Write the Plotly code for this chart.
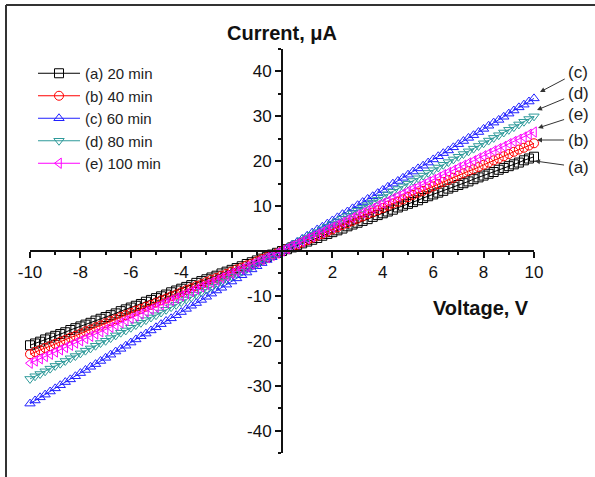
import plotly.graph_objects as go

voltage = [-10.0, -9.8, -9.6, -9.4, -9.2, -9.0, -8.8, -8.6, -8.4, -8.2,
           -8.0, -7.8, -7.6, -7.4, -7.2, -7.0, -6.8, -6.6, -6.4, -6.2,
           -6.0, -5.8, -5.6, -5.4, -5.2, -5.0, -4.8, -4.6, -4.4, -4.2,
           -4.0, -3.8, -3.6, -3.4, -3.2, -3.0, -2.8, -2.6, -2.4, -2.2,
           -2.0, -1.8, -1.6, -1.4, -1.2, -1.0, -0.8, -0.6, -0.4, -0.2,
           0.0,
           0.2, 0.4, 0.6, 0.8, 1.0, 1.2, 1.4, 1.6, 1.8, 2.0,
           2.2, 2.4, 2.6, 2.8, 3.0, 3.2, 3.4, 3.6, 3.8, 4.0,
           4.2, 4.4, 4.6, 4.8, 5.0, 5.2, 5.4, 5.6, 5.8, 6.0,
           6.2, 6.4, 6.6, 6.8, 7.0, 7.2, 7.4, 7.6, 7.8, 8.0,
           8.2, 8.4, 8.6, 8.8, 9.0, 9.2, 9.4, 9.6, 9.8, 10.0]

current_a = [-21.0, -20.6, -20.2, -19.7, -19.3, -18.9, -18.5, -18.1, -17.6, -17.2,
             -16.8, -16.4, -16.0, -15.5, -15.1, -14.7, -14.3, -13.9, -13.4, -13.0,
             -12.6, -12.2, -11.8, -11.3, -10.9, -10.5, -10.1, -9.7, -9.2, -8.8,
             -8.4, -8.0, -7.6, -7.1, -6.7, -6.3, -5.9, -5.5, -5.0, -4.6,
             -4.2, -3.8, -3.4, -2.9, -2.5, -2.1, -1.7, -1.3, -0.8, -0.4,
             0.0,
             0.4, 0.8, 1.3, 1.7, 2.1, 2.5, 2.9, 3.4, 3.8, 4.2,
             4.6, 5.0, 5.5, 5.9, 6.3, 6.7, 7.1, 7.6, 8.0, 8.4,
             8.8, 9.2, 9.7, 10.1, 10.5, 10.9, 11.3, 11.8, 12.2, 12.6,
             13.0, 13.4, 13.9, 14.3, 14.7, 15.1, 15.5, 16.0, 16.4, 16.8,
             17.2, 17.6, 18.1, 18.5, 18.9, 19.3, 19.7, 20.2, 20.6, 21.0]

current_b = [-23.0, -22.5, -22.1, -21.6, -21.2, -20.7, -20.2, -19.8, -19.3, -18.9,
             -18.4, -17.9, -17.5, -17.0, -16.6, -16.1, -15.6, -15.2, -14.7, -14.3,
             -13.8, -13.3, -12.9, -12.4, -12.0, -11.5, -11.0, -10.6, -10.1, -9.7,
             -9.2, -8.7, -8.3, -7.8, -7.4, -6.9, -6.4, -6.0, -5.5, -5.1,
             -4.6, -4.1, -3.7, -3.2, -2.8, -2.3, -1.8, -1.4, -0.9, -0.5,
             0.0,
             0.5, 1.0, 1.4, 1.9, 2.4, 2.9, 3.4, 3.8, 4.3, 4.8,
             5.3, 5.8, 6.2, 6.7, 7.2, 7.7, 8.2, 8.6, 9.1, 9.6,
             10.1, 10.6, 11.0, 11.5, 12.0, 12.5, 13.0, 13.4, 13.9, 14.4,
             14.9, 15.4, 15.8, 16.3, 16.8, 17.3, 17.8, 18.2, 18.7, 19.2,
             19.7, 20.2, 20.6, 21.1, 21.6, 22.1, 22.6, 23.0, 23.5, 24.0]

current_c = [-34.0, -33.3, -32.6, -32.0, -31.3, -30.6, -29.9, -29.2, -28.6, -27.9,
             -27.2, -26.5, -25.8, -25.2, -24.5, -23.8, -23.1, -22.4, -21.8, -21.1,
             -20.4, -19.7, -19.0, -18.4, -17.7, -17.0, -16.3, -15.6, -15.0, -14.3,
             -13.6, -12.9, -12.2, -11.6, -10.9, -10.2, -9.5, -8.8, -8.2, -7.5,
             -6.8, -6.1, -5.4, -4.8, -4.1, -3.4, -2.7, -2.0, -1.4, -0.7,
             0.0,
             0.7, 1.4, 2.0, 2.7, 3.4, 4.1, 4.8, 5.4, 6.1, 6.8,
             7.5, 8.2, 8.8, 9.5, 10.2, 10.9, 11.6, 12.2, 12.9, 13.6,
             14.3, 15.0, 15.6, 16.3, 17.0, 17.7, 18.4, 19.0, 19.7, 20.4,
             21.1, 21.8, 22.4, 23.1, 23.8, 24.5, 25.2, 25.8, 26.5, 27.2,
             27.9, 28.6, 29.2, 29.9, 30.6, 31.3, 32.0, 32.6, 33.3, 34.0]

current_d = [-28.5, -27.9, -27.4, -26.8, -26.2, -25.6, -25.1, -24.5, -23.9, -23.4,
             -22.8, -22.2, -21.7, -21.1, -20.5, -20.0, -19.4, -18.8, -18.2, -17.7,
             -17.1, -16.5, -16.0, -15.4, -14.8, -14.3, -13.7, -13.1, -12.5, -12.0,
             -11.4, -10.8, -10.3, -9.7, -9.1, -8.6, -8.0, -7.4, -6.8, -6.3,
             -5.7, -5.1, -4.6, -4.0, -3.4, -2.9, -2.3, -1.7, -1.1, -0.6,
             0.0,
             0.6, 1.2, 1.8, 2.4, 3.0, 3.6, 4.2, 4.8, 5.4, 6.0,
             6.6, 7.2, 7.8, 8.4, 9.0, 9.6, 10.2, 10.8, 11.4, 12.0,
             12.6, 13.2, 13.8, 14.4, 15.0, 15.6, 16.2, 16.8, 17.4, 18.0,
             18.6, 19.2, 19.8, 20.4, 21.0, 21.6, 22.2, 22.8, 23.4, 24.0,
             24.6, 25.2, 25.8, 26.4, 27.0, 27.6, 28.2, 28.8, 29.4, 30.0]

current_e = [-25.0, -24.5, -24.0, -23.5, -23.0, -22.5, -22.0, -21.5, -21.0, -20.5,
             -20.0, -19.5, -19.0, -18.5, -18.0, -17.5, -17.0, -16.5, -16.0, -15.5,
             -15.0, -14.5, -14.0, -13.5, -13.0, -12.5, -12.0, -11.5, -11.0, -10.5,
             -10.0, -9.5, -9.0, -8.5, -8.0, -7.5, -7.0, -6.5, -6.0, -5.5,
             -5.0, -4.5, -4.0, -3.5, -3.0, -2.5, -2.0, -1.5, -1.0, -0.5,
             0.0,
             0.5, 1.1, 1.6, 2.1, 2.7, 3.2, 3.7, 4.2, 4.8, 5.3,
             5.8, 6.4, 6.9, 7.4, 8.0, 8.5, 9.0, 9.5, 10.1, 10.6,
             11.1, 11.7, 12.2, 12.7, 13.3, 13.8, 14.3, 14.8, 15.4, 15.9,
             16.4, 17.0, 17.5, 18.0, 18.6, 19.1, 19.6, 20.1, 20.7, 21.2,
             21.7, 22.3, 22.8, 23.3, 23.9, 24.4, 24.9, 25.4, 26.0, 26.5]

series_names = ["(a) 20 min", "(b) 40 min", "(c) 60 min", "(d) 80 min", "(e) 100 min"]
series_values = [current_a, current_b, current_c, current_d, current_e]
series_colors = ["#000000", "#ff0000", "#2020ff", "#2e9a9a", "#ff00ff"]
series_symbols = ["square-open", "circle-open", "triangle-up-open",
                  "triangle-down-open", "triangle-left-open"]

x_tickvals = [-10, -8, -6, -4, -2, 2, 4, 6, 8, 10]
x_ticktext = ["-10", "-8", "-6", "-4", "", "2", "4", "6", "8", "10"]
x_minor = [-9, -7, -5, -3, -1, 1, 3, 5, 7, 9]
y_tickvals = [-40, -30, -20, -10, 10, 20, 30, 40]
y_ticktext = ["-40", "-30", "-20", "-10", "10", "20", "30", "40"]
y_minor = [-45, -35, -25, -15, -5, 5, 15, 25, 35, 45]

curve_labels = ["(c)", "(d)", "(e)", "(b)", "(a)"]

fig = go.Figure()
for name, vals, col, sym in zip(series_names, series_values, series_colors, series_symbols):
    fig.add_trace(go.Scatter(
        x=voltage, y=vals, name=name, mode="lines+markers",
        line=dict(color=col, width=1),
        marker=dict(symbol=sym, size=9, color=col, line=dict(width=1, color=col)),
        cliponaxis=False,
    ))

W, H = 595, 477
L, R, T, B = 30, 61, 49, 24
pw, ph = W - L - R, H - T - B


def px_x(px):
    return (px - L) / pw


def px_y(py):
    return (H - B - py) / ph


font_family = "Liberation Sans, Arial, sans-serif"
axis_common = dict(showgrid=False, zeroline=False, showline=True, linecolor="#111111",
                   linewidth=2, ticks="outside", ticklen=6, tickwidth=2, tickcolor="#111111",
                   tickfont=dict(family=font_family, size=17, color="#111111"),
                   anchor="free", position=0.5, tickmode="array")

fig.update_layout(
    width=W, height=H,
    margin=dict(l=L, r=R, t=T, b=B, autoexpand=False),
    paper_bgcolor="white", plot_bgcolor="white",
    xaxis=dict(range=[-10, 10], tickvals=x_tickvals, ticktext=x_ticktext,
               minor=dict(tickmode="array", tickvals=x_minor, ticks="outside",
                          ticklen=3, tickwidth=2, tickcolor="#111111"),
               **axis_common),
    yaxis=dict(range=[-45, 45], tickvals=y_tickvals, ticktext=y_ticktext,
               minor=dict(tickmode="array", tickvals=y_minor, ticks="outside",
                          ticklen=3, tickwidth=2, tickcolor="#111111"),
               **axis_common),
    showlegend=True,
    legend=dict(x=px_x(33), y=px_y(57), xanchor="left", yanchor="top",
                bgcolor="rgba(0,0,0,0)", itemwidth=42,
                font=dict(family=font_family, size=15, color="#222222"),
                tracegroupgap=0),
    font=dict(family=font_family),
)

# axis titles
fig.add_annotation(text="<b>Current, μA</b>", xref="paper", yref="paper",
                   x=px_x(282), y=px_y(33), showarrow=False,
                   xanchor="center", yanchor="middle",
                   font=dict(family=font_family, size=20, color="#111111"))
fig.add_annotation(text="<b>Voltage, V</b>", xref="paper", yref="paper",
                   x=px_x(481), y=px_y(308), showarrow=False,
                   xanchor="center", yanchor="middle",
                   font=dict(family=font_family, size=20, color="#111111"))

# curve labels with arrows
label_pos = [(578, 72), (578, 93), (578, 115), (578, 140), (578, 167)]
tip_pos = [(540, 92), (537, 110), (538, 128), (537, 140), (535, 161)]
for lab, (lx, ly), (tx, ty) in zip(curve_labels, label_pos, tip_pos):
    fig.add_annotation(text=lab, xref="paper", yref="paper",
                       x=px_x(tx), y=px_y(ty), ax=lx - tx, ay=ly - ty,
                       showarrow=True, arrowhead=2, arrowsize=1, arrowwidth=1,
                       arrowcolor="#333333", standoff=0, startstandoff=2,
                       font=dict(family=font_family, size=17, color="#222222"))

# outer frame (left and top edges)
frame_x = px_x(6)
frame_top = px_y(5)
fig.add_shape(type="line", xref="paper", yref="paper", x0=frame_x, x1=frame_x,
              y0=px_y(H + 5), y1=frame_top, line=dict(color="#333333", width=2))
fig.add_shape(type="line", xref="paper", yref="paper", x0=frame_x, x1=px_x(W + 5),
              y0=frame_top, y1=frame_top, line=dict(color="#333333", width=2))

fig.write_html("out.html", config={"displayModeBar": False},
               post_script="document.body.style.margin='0px';")
